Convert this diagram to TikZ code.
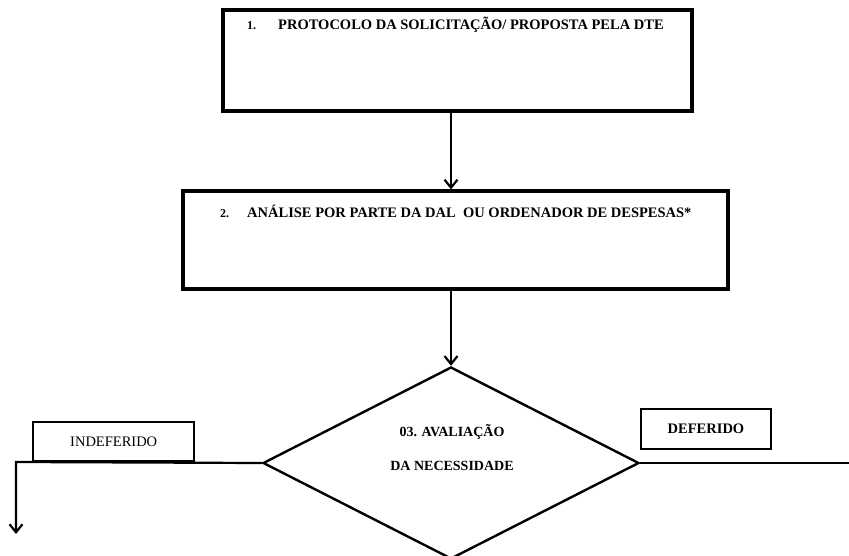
\documentclass[tikz,border=0pt]{standalone}
\usepackage{fontspec}
\setmainfont{Liberation Serif}
\usetikzlibrary{shapes.geometric,arrows.meta}
\tikzset{
  stepbox/.style={draw=black, line width=3.2pt, rectangle, inner sep=0pt},
  labelbox/.style={draw=black, line width=2.4pt, rectangle, inner sep=0pt},
  decision/.style={draw=black, line width=2.4pt, diamond, inner sep=0pt, minimum width=376pt, minimum height=192pt},
  conn/.style={draw=black, line width=2.2pt},
  arr/.style={conn, -{Straight Barb[length=8pt,width=13pt,line width=2.2pt]}},
  btext/.style={font=\fontsize{14.5}{16}\selectfont\bfseries, inner sep=0pt},
  ntext/.style={font=\fontsize{12}{14}\selectfont\bfseries, inner sep=0pt},
  rtext/.style={font=\fontsize{14.5}{16}\selectfont, inner sep=0pt},
  dtext/.style={font=\fontsize{14}{16}\selectfont\bfseries, inner sep=0pt}
}
\begin{document}
\begin{tikzpicture}[x=1pt,y=-1pt]
\clip (0,0) rectangle (849,555);
% boxes
\node[stepbox, minimum width=469pt, minimum height=101pt] (b1) at (457.5,60.5) {};
\node[stepbox, minimum width=545pt, minimum height=98pt] (b2) at (455.5,240) {};
\node[decision] (d) at (451,463) {};
% texts in boxes
\node[ntext, anchor=base west] (n1) at (247,29) {1.};
\node[btext, anchor=base west] (t1) at (278,29) {PROTOCOLO DA SOLICITAÇÃO/ PROPOSTA PELA DTE};
\node[ntext, anchor=base west] (n2) at (220,217) {2.};
\node[btext, anchor=base west] (t2) at (247,217) {ANÁLISE POR PARTE DA DAL~ OU ORDENADOR DE DESPESAS*};
\node[dtext, anchor=base] (t3) at (452,436) {03. AVALIAÇÃO};
\node[dtext, anchor=base] (t4) at (452,470) {DA NECESSIDADE};
% connectors
\draw[arr] (d.north |- b1.south) -- (d.north |- b2.north);
\draw[arr] (d.north |- b2.south) -- (d.north);
\coordinate (lc) at (16,462);
\coordinate (le) at (16,534);
\coordinate (rc) at (852,463);
\draw[arr] (d.west) -- (lc) -- (le);
\draw[conn] (d.east) -- (rc);
% outcome labels
\node[labelbox, minimum width=161pt, minimum height=39pt, anchor=south west] (ind) at (32,462) {};
\node[rtext] (indt) at (ind.center) {INDEFERIDO};
\node[labelbox, minimum width=130pt, minimum height=40pt] (def) at (706,429) {};
\node[btext] (deft) at (def.center) {DEFERIDO};
\end{tikzpicture}
\end{document}
